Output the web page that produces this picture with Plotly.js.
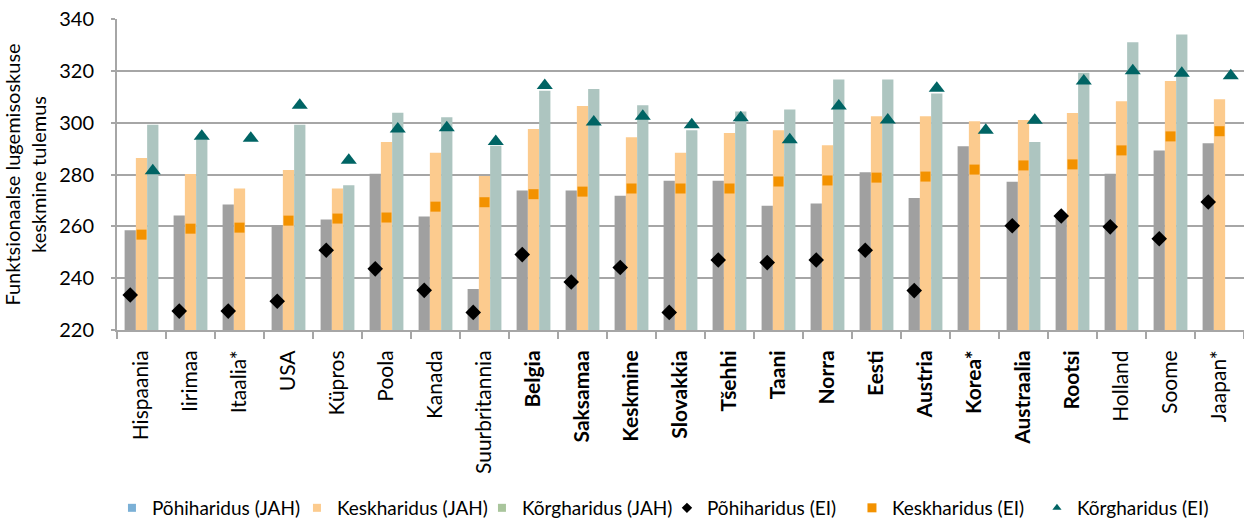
<!DOCTYPE html>
<html>
<head>
<meta charset="utf-8">
<script src="https://cdn.plot.ly/plotly-3.0.1.min.js"></script>
<style>html,body{margin:0;padding:0;background:#fff}#chart{width:1244px;height:521px}</style>
</head>
<body>
<div id="chart"></div>
<script>
const countries = ["Hispaania","Iirimaa","Itaalia*","USA","Küpros","Poola","Kanada","Suurbritannia","Belgia","Saksamaa","Keskmine","Slovakkia","Tšehhi","Taani","Norra","Eesti","Austria","Korea*","Austraalia","Rootsi","Holland","Soome","Jaapan*"];
const boldLabels = ["Belgia","Saksamaa","Keskmine","Slovakkia","Tšehhi","Taani","Norra","Eesti","Austria","Korea*","Austraalia","Rootsi"];

const pohiJAH  = [258.5,264.2,268.4,260.4,262.6,280.3,263.8,235.8,273.8,273.8,271.8,277.6,277.6,267.9,268.8,280.9,270.9,290.9,277.2,264.0,280.3,289.3,292.1];
const keskJAH  = [286.4,280.2,274.6,281.7,274.6,292.5,288.4,279.4,297.6,306.4,294.4,288.4,296.0,297.1,291.3,302.5,302.5,300.5,301.0,303.7,308.3,316.1,309.0];
const korgJAH  = [299.2,293.5,null,299.2,275.9,303.8,302.1,291.1,312.3,313.0,306.7,297.1,304.3,305.1,316.7,316.7,311.3,null,292.5,319.3,331.0,334.0,null];
const pohiEI   = [233.5,227.3,227.3,231.1,250.8,243.6,235.3,226.8,249.1,238.5,244.1,226.8,247.0,246.0,247.0,250.8,235.2,null,260.2,264.0,259.8,255.2,269.4];
const keskEI   = [256.8,259.1,259.5,262.2,263.0,263.4,267.6,269.3,272.4,273.4,274.6,274.6,274.6,277.3,277.7,278.8,279.2,281.9,283.5,283.9,289.3,294.7,296.7];
const korgEI   = [281.4,294.8,294.0,306.7,285.5,297.6,298.0,292.7,314.3,300.3,302.5,299.2,301.9,293.4,306.4,301.0,313.3,297.1,300.9,316.1,320.0,319.1,318.1];

const seriesNames = ["Põhiharidus (JAH)","Keskharidus (JAH)","Kõrgharidus (JAH)","Põhiharidus (EI)","Keskharidus (EI)","Kõrgharidus (EI)"];
const yTicks = [220,240,260,280,300,320,340];

const barColors = ["#a0a0a0","#fccb8e","#adc5c0"];
const legendColors = ["#7bb0d6","#fccb8e","#a9c59c","#000000","#f39200","#006464"];
const legendSymbols = ["square","square","square","diamond","square","triangle-up"];
const legendSizes = [8,8,8,8,9,8];

const idx = countries.map((_, i) => i);
const tickText = countries.map(c => boldLabels.includes(c) ? "<b>" + c + "</b>" : c);

const bargap = 0.31;
const bw = (1 - bargap) / 3;
const shifted = k => idx.map(i => i + (k - 1) * bw);

const traces = [];
[pohiJAH, keskJAH, korgJAH].forEach((vals, k) => {
  traces.push({type:"bar", x: idx, y: vals, marker:{color: barColors[k]}, showlegend:false, name: seriesNames[k]});
});
traces.push({type:"scatter", mode:"markers", x: shifted(0), y: pohiEI, name: seriesNames[3], showlegend:false,
  marker:{symbol:"diamond", size:12, color:"#000000"}});
traces.push({type:"scatter", mode:"markers", x: shifted(1), y: keskEI, name: seriesNames[4], showlegend:false,
  marker:{symbol:"square", size:10, color:"#f39200"}});
traces.push({type:"scatter", mode:"markers", x: shifted(2), y: korgEI, name: seriesNames[5], showlegend:false,
  marker:{symbol:"triangle-up", size:14, color:"#006464"}});
// legend entries
seriesNames.forEach((nm, k) => {
  traces.push({type:"scatter", mode:"markers", x:[null], y:[null], name: nm, showlegend:true,
    marker:{symbol: legendSymbols[k], size: legendSizes[k], color: legendColors[k]}});
});

const gridCol = "#a6a6a6";
const layout = {
  width:1244, height:521,
  margin:{l:117, r:0, t:19, b:191},
  paper_bgcolor:"#ffffff", plot_bgcolor:"#ffffff",
  font:{family:"Lato, 'Open Sans', sans-serif", color:"#000000", size:20},
  barmode:"group", bargap: bargap, bargroupgap:0,
  showlegend:true,
  legend:{orientation:"h", xref:"container", x:0.09, xanchor:"left", yref:"container", y:0.025, yanchor:"middle",
          font:{size:19}, entrywidth:140, traceorder:"normal", itemclick:false},
  xaxis:{type:"linear", range:[-0.5, 22.5], tickmode:"array", tickvals: idx, ticktext: tickText,
         tickangle:-90, ticks:"", showgrid:false, zeroline:false, showline:true, linecolor:gridCol, linewidth:2,
         tickfont:{size:21}, ticklabelstandoff:10,
         minor:{tick0:-0.5, dtick:1, ticks:"outside", ticklen:7, tickwidth:2, tickcolor:gridCol, showgrid:false}},
  yaxis:{range:[220,340], tickmode:"array", tickvals: yTicks, showgrid:true, gridcolor:gridCol, gridwidth:2,
         zeroline:false, showline:true, linecolor:gridCol, linewidth:2, ticks:"outside", ticklen:4, tickwidth:2, tickcolor:gridCol,
         tickfont:{size:20}, ticklabelstandoff:13,
         title:{text:"Funktsionaalse lugemisoskuse<br>keskmine tulemus", font:{size:20}, standoff:12}}
};

Plotly.newPlot("chart", traces, layout, {displayModeBar:false, staticPlot:true});
</script>
</body>
</html>
